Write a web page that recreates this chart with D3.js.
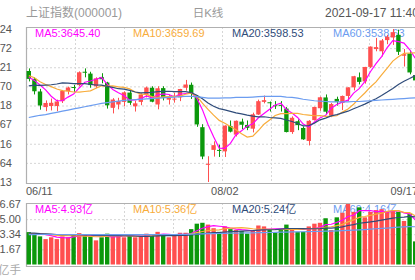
<!DOCTYPE html>
<html>
<head>
<meta charset="utf-8">
<script src="https://cdn.jsdelivr.net/npm/d3@7"></script>
<style>
body { margin: 0; background: #fff; overflow: hidden; }
svg { display: block; font-family: Arial, "Liberation Sans", "Noto Sans CJK SC", sans-serif; }
</style>
</head>
<body>
<script>
// trading days shown
const dates = ["06/11","06/15","06/16","06/17","06/18","06/21","06/22","06/23","06/24","06/25",
  "06/28","06/29","06/30","07/01","07/02","07/05","07/06","07/07","07/08","07/09",
  "07/12","07/13","07/14","07/15","07/16","07/19","07/20","07/21","07/22","07/23",
  "07/26","07/27","07/28","07/29","07/30","08/02","08/03","08/04","08/05","08/06",
  "08/09","08/10","08/11","08/12","08/13","08/16","08/17","08/18","08/19","08/20",
  "08/23","08/24","08/25","08/26","08/27","08/30","08/31","09/01","09/02","09/03",
  "09/06","09/07","09/08","09/09","09/10","09/13","09/14","09/15","09/16","09/17"];

const open = [3611,3590,3556,3514,3517,3517,3530,3557,3568,3573,
  3609,3604,3570,3595,3580,3512,3521,3528,3553,3516,
  3528,3547,3566,3521,3565,3534,3535,3540,3566,3574,
  3544,3460,3361,3399,3399,3395,3463,3440,3475,3466,
  3456,3494,3528,3527,3519,3520,3510,3447,3476,3458,
  3423,3479,3511,3540,3491,3536,3525,3544,3567,3594,
  3583,3622,3670,3664,3694,3701,3708,3652,3658,3600];
const high = [3618,3594,3563,3532,3537,3534,3560,3569,3574,3610,
  3618,3609,3594,3605,3582,3538,3539,3556,3560,3531,
  3551,3569,3570,3570,3570,3548,3553,3563,3587,3580,
  3546,3468,3382,3422,3413,3465,3478,3478,3483,3478,
  3499,3534,3545,3529,3530,3530,3514,3489,3481,3462,
  3479,3515,3542,3548,3525,3542,3545,3567,3598,3607,
  3622,3677,3700,3697,3708,3723.85,3722,3670,3667,3606];
const low = [3583,3548,3507,3503,3505,3503,3525,3548,3555,3570,
  3594,3566,3565,3578,3510,3497,3508,3516,3520,3502,
  3519,3540,3527,3508,3532,3521,3526,3530,3558,3536,
  3461,3374,3312.72,3381,3380,3380,3446,3435,3455,3452,
  3446,3493,3524,3502,3509,3502,3446,3442,3452,3426,
  3411,3478,3504,3495,3487,3518,3506,3530,3559,3575,
  3577,3619,3664,3650,3683,3681,3654,3623,3602,3570];
const close = [3589.75,3556.56,3518.33,3525.10,3525.60,3529.18,3557.41,3566.65,3566.22,3607.56,
  3606.37,3573.18,3591.20,3588.78,3518.76,3534.32,3530.26,3553.72,3525.50,3524.09,
  3547.84,3566.66,3528.50,3564.59,3539.30,3539.12,3536.79,3562.59,3574.73,3550.40,
  3467.44,3381.18,3361.59,3411.72,3397.36,3464.29,3447.99,3477.22,3466.56,3458.23,
  3494.63,3529.93,3532.62,3524.74,3516.30,3517.34,3446.98,3485.29,3465.55,3427.33,
  3477.13,3514.47,3540.38,3501.66,3522.16,3528.15,3543.94,3567.10,3597.04,3581.73,
  3621.86,3676.59,3675.19,3693.13,3703.11,3715.37,3662.60,3656.22,3607.09,3585.70];

const ma5 = [3594.4,3585.8,3573.4,3560.2,3543.2,3531.0,3531.0,3540.8,3549.0,3565.4,
  3580.8,3584.0,3588.8,3593.4,3575.6,3561.2,3552.6,3545.2,3532.6,3533.6,
  3536.4,3543.8,3538.8,3546.6,3549.6,3547.8,3541.8,3548.6,3550.6,3552.8,
  3538.4,3507.2,3467.0,3434.4,3403.8,3403.2,3416.6,3439.6,3450.6,3462.8,
  3469.0,3485.4,3496.6,3508.2,3519.8,3524.2,3507.6,3498.0,3486.2,3468.4,
  3460.4,3473.8,3484.8,3492.0,3511.0,3521.2,3527.2,3532.6,3551.6,3563.6,
  3582.4,3609.0,3630.6,3649.8,3674.0,3692.6,3689.8,3686.0,3668.8,3645.40];
const ma10 = [3598.5,3592.7,3582.0,3574.8,3569.0,3562.7,3558.4,3557.1,3554.6,3554.3,
  3555.9,3557.5,3564.8,3571.2,3570.5,3571.0,3568.3,3567.0,3563.0,3554.6,
  3548.8,3548.2,3542.0,3539.6,3541.6,3542.1,3542.8,3543.7,3548.6,3551.2,
  3543.1,3524.5,3507.8,3492.5,3478.3,3470.8,3461.9,3453.3,3442.5,3433.3,
  3436.1,3451.0,3468.1,3479.4,3491.3,3496.6,3496.5,3497.3,3497.2,3494.1,
  3492.3,3490.7,3491.4,3489.1,3489.7,3490.8,3500.5,3508.7,3521.8,3537.3,
  3551.8,3568.1,3581.6,3600.7,3618.8,3637.5,3649.4,3658.3,3659.3,3659.69];
const ma20 = [3570.9,3572.9,3572.3,3573.0,3574.0,3576.1,3579.1,3578.4,3577.0,3577.0,
  3577.2,3575.1,3573.4,3573.0,3569.8,3566.9,3563.4,3562.1,3558.8,3554.5,
  3552.4,3552.9,3553.4,3555.4,3556.1,3556.6,3555.6,3555.4,3555.8,3552.9,
  3546.0,3536.4,3524.9,3516.1,3510.0,3506.5,3502.4,3498.5,3495.6,3492.3,
  3489.6,3487.8,3488.0,3486.0,3484.8,3483.7,3479.2,3475.3,3469.9,3463.7,
  3464.2,3470.9,3479.8,3484.3,3490.5,3493.7,3498.5,3503.0,3509.5,3515.7,
  3522.1,3529.4,3536.5,3544.9,3554.3,3564.2,3575.0,3583.5,3590.6,3598.53];
const ma60 = [3486,3489,3492,3494,3497,3500,3503,3506,3509,3512,
  3515,3518,3521,3524,3526,3528,3530,3532,3533,3534,
  3535,3536,3537,3538,3539,3540,3541,3542,3543,3543,
  3542,3540,3538,3538,3538,3539,3539,3540,3540,3540,
  3541,3542,3543,3543,3543,3543,3541,3540,3538,3535,
  3533,3531,3530,3529,3528,3528,3528,3528,3529,3529,
  3530,3531,3532,3533,3534,3535,3536,3537,3538,3538.63];

// volume, 亿手
const volume = [3.57,3.42,3.10,2.80,3.00,2.80,3.10,3.00,3.35,3.46,
  3.30,3.10,2.66,3.00,3.40,3.10,3.20,3.00,3.30,3.00,
  3.10,3.40,3.30,3.60,3.30,3.00,3.20,3.50,3.50,3.90,
  4.50,4.60,4.40,4.00,3.60,4.20,3.90,3.80,3.70,3.40,
  3.80,4.30,4.20,3.80,3.50,3.90,4.40,3.90,3.60,3.60,
  4.20,4.50,4.60,5.10,3.80,5.20,5.70,6.67,5.80,6.30,
  5.20,5.80,6.00,6.10,5.80,5.90,5.80,4.80,5.60,2.55];
const vma5 = [3.39,3.42,3.40,3.28,3.18,3.02,2.96,2.94,3.05,3.14,
  3.24,3.24,3.17,3.10,3.09,3.05,3.07,3.14,3.20,3.12,
  3.12,3.16,3.22,3.28,3.34,3.32,3.28,3.32,3.30,3.42,
  3.72,4.00,4.18,4.28,4.22,4.16,4.02,3.90,3.84,3.80,
  3.72,3.80,3.88,3.90,3.92,3.94,3.96,3.90,3.86,3.88,
  3.94,3.96,4.10,4.40,4.44,4.64,4.88,5.29,5.43,5.93,
  5.93,5.95,5.82,5.88,5.78,5.92,5.92,5.68,5.58,4.93];
const vma10 = [3.40,3.39,3.35,3.32,3.29,3.21,3.19,3.17,3.17,3.16,
  3.13,3.10,3.06,3.08,3.12,3.15,3.16,3.16,3.15,3.11,
  3.09,3.12,3.18,3.24,3.23,3.22,3.22,3.27,3.29,3.38,
  3.52,3.64,3.75,3.79,3.82,3.94,4.01,4.04,4.06,4.01,
  3.94,3.91,3.89,3.87,3.86,3.83,3.88,3.89,3.88,3.90,
  3.94,3.96,4.00,4.13,4.16,4.29,4.42,4.70,4.92,5.19,
  5.29,5.42,5.56,5.66,5.86,5.93,5.94,5.75,5.73,5.36];
const vma20 = [3.45,3.45,3.40,3.39,3.35,3.31,3.30,3.29,3.29,3.28,
  3.27,3.25,3.21,3.20,3.21,3.18,3.18,3.17,3.16,3.14,
  3.11,3.11,3.12,3.16,3.18,3.19,3.19,3.22,3.22,3.25,
  3.31,3.38,3.47,3.52,3.53,3.58,3.62,3.66,3.68,3.70,
  3.73,3.78,3.82,3.83,3.84,3.89,3.95,3.97,3.97,3.96,
  3.94,3.94,3.95,4.00,4.01,4.06,4.15,4.30,4.40,4.55,
  4.62,4.69,4.78,4.90,5.01,5.11,5.18,5.23,5.30,5.24];
const vma60 = [3.30,3.30,3.31,3.31,3.31,3.31,3.31,3.31,3.31,3.31,
  3.31,3.31,3.30,3.30,3.30,3.30,3.30,3.30,3.30,3.30,
  3.30,3.30,3.30,3.31,3.31,3.31,3.31,3.32,3.33,3.34,
  3.36,3.38,3.40,3.41,3.42,3.44,3.45,3.46,3.47,3.48,
  3.49,3.51,3.52,3.53,3.54,3.56,3.58,3.59,3.60,3.61,
  3.62,3.64,3.66,3.68,3.69,3.71,3.73,3.76,3.79,3.82,
  3.85,3.89,3.94,3.98,4.02,4.07,4.11,4.14,4.17,4.16];

const priceTicks = [3723.85,3672.46,3621.07,3569.68,3518.29,3466.90,3415.51,3364.11,3312.72];
const volTicks = [6.67, 5.00, 3.34, 1.67];
const axisDays = [0, 35, 69];

const red = "#ff4f4f", green = "#0b980b";
const maColor = { ma5: "#ff00ff", ma10: "#f8ac3a", ma20: "#2f4c7a", ma60: "#6b9cf0" };

const W = 415, H = 280;
const L = 26, R = 418;
const pTop = 27, pBot = 183;
const vTop = 203, vBot = 266;

const svg = d3.select("body").append("svg")
  .attr("width", W).attr("height", H);

const x = d3.scaleBand().domain(d3.range(dates.length)).range([L, R])
  .paddingInner(0.22).paddingOuter(0.11);
const xc = i => x(i) + x.bandwidth() / 2;
const y = d3.scaleLinear().domain([3312.72, 3723.85]).range([182, 29]);
const yv = d3.scaleLinear().domain([0, 6.67]).range([264.5, 204]);

// header texts
svg.append("text").attr("x", 26).attr("y", 17).attr("fill", "#999")
  .style("font-size", "12px").text("上证指数(000001)");
svg.append("text").attr("x", 208).attr("y", 17).attr("fill", "#999")
  .attr("text-anchor", "middle").style("font-size", "11.5px").text("日K线");
svg.append("text").attr("x", 325).attr("y", 17).attr("fill", "#555")
  .style("font-size", "12px").text("2021-09-17 11:40");

// grids
const vgrid = d3.range(1, 8).map(k => L + k * (R - L) / 8);
const gp = svg.append("g");
gp.selectAll("line.h").data(priceTicks.slice(1, -1)).join("line").attr("class", "h")
  .attr("x1", L).attr("x2", R).attr("y1", d => y(d) + 0.5).attr("y2", d => y(d) + 0.5)
  .attr("stroke", "#d6d6d6").attr("stroke-dasharray", "2,2");
gp.selectAll("line.v").data(vgrid).join("line").attr("class", "v")
  .attr("x1", d => d + 0.5).attr("x2", d => d + 0.5).attr("y1", pTop).attr("y2", pBot)
  .attr("stroke", "#d6d6d6").attr("stroke-dasharray", "2,2");
const gv = svg.append("g");
gv.selectAll("line.h").data(volTicks.slice(1)).join("line").attr("class", "h")
  .attr("x1", L).attr("x2", R).attr("y1", d => yv(d) + 0.5).attr("y2", d => yv(d) + 0.5)
  .attr("stroke", "#d6d6d6").attr("stroke-dasharray", "2,2");
gv.selectAll("line.v").data(vgrid).join("line").attr("class", "v")
  .attr("x1", d => d + 0.5).attr("x2", d => d + 0.5).attr("y1", vTop).attr("y2", vBot)
  .attr("stroke", "#d6d6d6").attr("stroke-dasharray", "2,2");

// frames
[[pTop, pBot], [vTop, vBot]].forEach(([t, b]) => {
  svg.append("path").attr("d", `M${R},${t + 0.5}H${L + 0.5}V${b + 0.5}H${R}`)
    .attr("fill", "none").attr("stroke", "#b0b0b0").attr("stroke-width", 1.2);
});

// y labels (the left part runs off the page, as in the original crop)
svg.selectAll("text.py").data(priceTicks).join("text").attr("class", "py")
  .attr("x", 12).attr("y", d => y(d)).attr("dy", "0.35em")
  .attr("text-anchor", "end").attr("fill", "#555").style("font-size", "11px")
  .text(d => d3.format(".0f")(d));
svg.selectAll("text.vy").data(volTicks).join("text").attr("class", "vy")
  .attr("x", 21).attr("y", d => yv(d)).attr("dy", "0.35em")
  .attr("text-anchor", "end").attr("fill", "#555").style("font-size", "11px")
  .text(d => d3.format(".2f")(d));
svg.append("text").attr("x", 21).attr("y", 270).attr("dy", "0.35em")
  .attr("text-anchor", "end").attr("fill", "#aaa").style("font-size", "11.5px").text("亿手");

// date labels
svg.selectAll("text.dx").data(axisDays).join("text").attr("class", "dx")
  .attr("x", (d, k) => k === 0 ? L : k === axisDays.length - 1 ? R : xc(d))
  .attr("y", 195)
  .attr("text-anchor", (d, k) => k === 0 ? "start" : k === axisDays.length - 1 ? "end" : "middle")
  .attr("fill", "#555").style("font-size", "11px")
  .text(d => dates[d]);

// legends (drawn under the marks)
const legX = [35, 133, 232, 333];
const last = dates.length - 1;
const priceLeg = [["MA5", ma5, maColor.ma5], ["MA10", ma10, maColor.ma10],
  ["MA20", ma20, maColor.ma20], ["MA60", ma60, maColor.ma60]];
svg.selectAll("text.pl").data(priceLeg).join("text").attr("class", "pl")
  .attr("x", (d, k) => legX[k]).attr("y", 37).attr("fill", d => d[2])
  .style("font-size", "11px")
  .text(d => d[0] + ":" + d3.format(".2f")(d[1][last]));
const volLeg = [["MA5", vma5, maColor.ma5], ["MA10", vma10, maColor.ma10],
  ["MA20", vma20, maColor.ma20], ["MA60", vma60, maColor.ma60]];
svg.selectAll("text.vl").data(volLeg).join("text").attr("class", "vl")
  .attr("x", (d, k) => legX[k]).attr("y", 213).attr("fill", d => d[2])
  .style("font-size", "11px")
  .text(d => d[0] + ":" + d3.format(".2f")(d[1][last]) + "亿");

// candles
const idx = d3.range(dates.length);
const up = i => close[i] >= open[i];
const cg = svg.append("g");
cg.selectAll("line").data(idx).join("line")
  .attr("x1", i => Math.round(xc(i)) + 0.5).attr("x2", i => Math.round(xc(i)) + 0.5)
  .attr("y1", i => y(high[i])).attr("y2", i => y(low[i]))
  .attr("stroke", i => up(i) ? red : green);
cg.selectAll("rect").data(idx).join("rect")
  .attr("x", i => x(i)).attr("width", x.bandwidth())
  .attr("y", i => y(Math.max(open[i], close[i])))
  .attr("height", i => Math.max(1, Math.abs(y(open[i]) - y(close[i]))))
  .attr("fill", i => up(i) ? red : green);

// volume bars
svg.append("g").selectAll("rect").data(idx).join("rect")
  .attr("x", i => x(i)).attr("width", x.bandwidth())
  .attr("y", i => yv(volume[i])).attr("height", i => yv(0) - yv(volume[i]))
  .attr("fill", i => up(i) ? red : green);

// moving average lines
const lineP = d3.line().x((d, i) => xc(i)).y(d => y(d));
const lineV = d3.line().x((d, i) => xc(i)).y(d => yv(d));
priceLeg.forEach(d => svg.append("path").attr("d", lineP(d[1]))
  .attr("fill", "none").attr("stroke", d[2]).attr("stroke-width", 1.2));
volLeg.forEach(d => svg.append("path").attr("d", lineV(d[1]))
  .attr("fill", "none").attr("stroke", d[2]).attr("stroke-width", 1.2));
</script>
</body>
</html>
